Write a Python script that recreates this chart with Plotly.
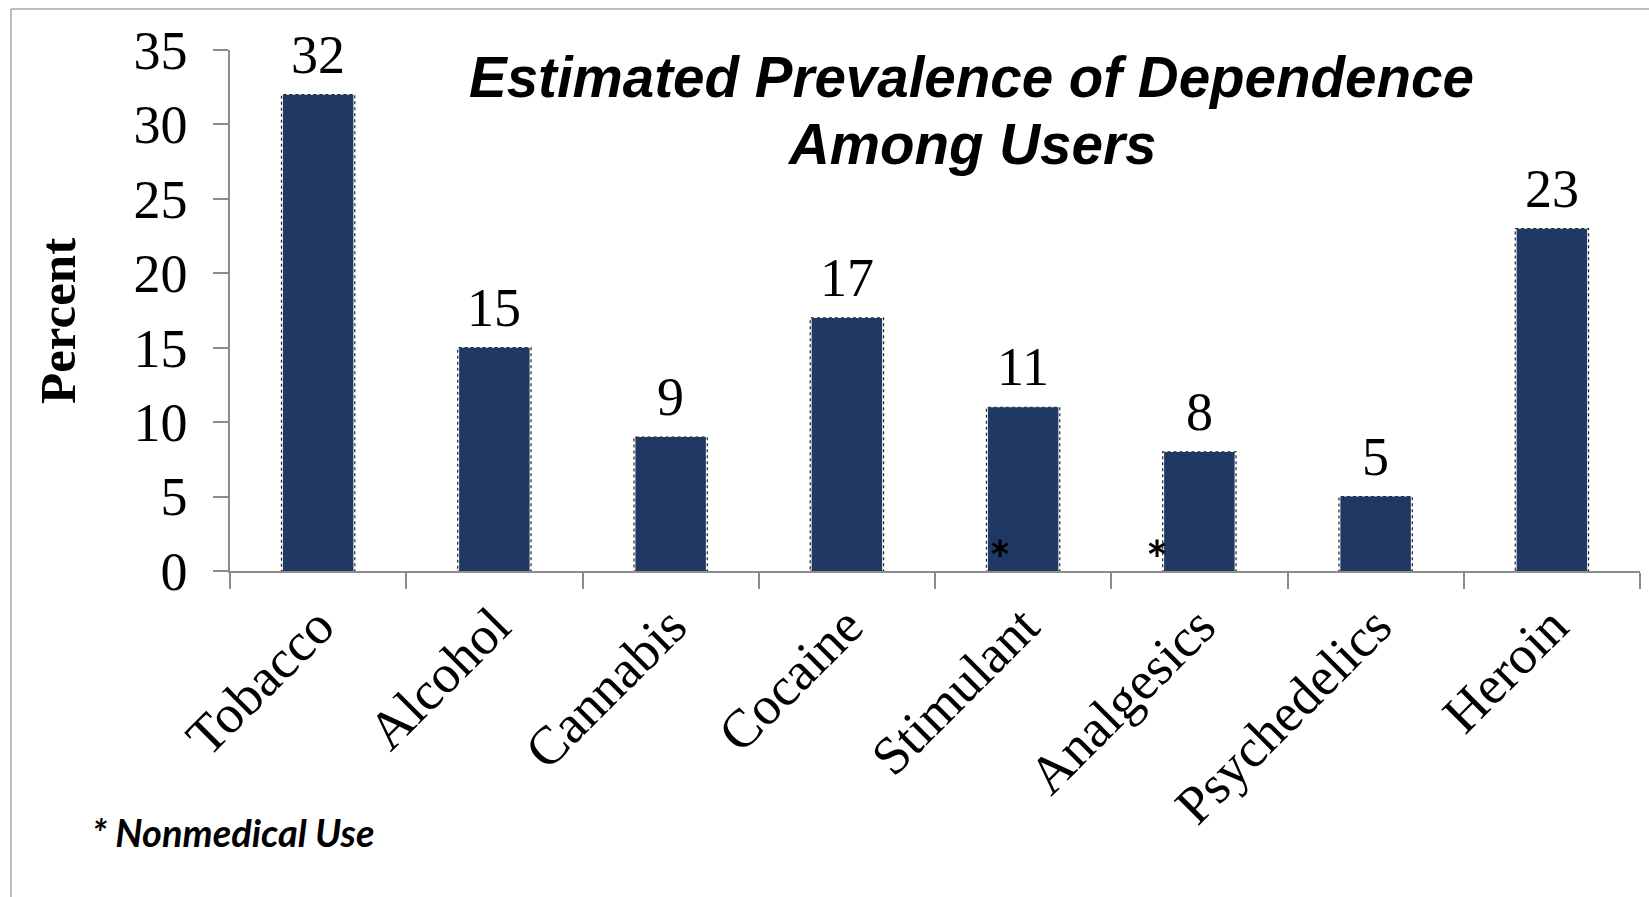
import plotly.graph_objects as go

# Estimated prevalence of dependence among users (percent)
categories = ["Tobacco", "Alcohol", "Cannabis", "Cocaine", "Stimulant",
              "Analgesics", "Psychedelics", "Heroin"]
percent = [32, 15, 9, 17, 11, 8, 5, 23]
nonmedical = ["Stimulant", "Analgesics"]

title_lines = ["Estimated Prevalence of Dependence", "Among Users"]
y_title = "Percent"
footnote = "* Nonmedical Use"
y_ticks = [0, 5, 10, 15, 20, 25, 30, 35]

BAR = "#203864"
AXIS = "#8c8c8c"
SERIF = "Liberation Serif, Times New Roman, serif"
SANS = "Liberation Sans, Arial, sans-serif"

W, H = 1649, 897
ML, MR, MT, MB = 230, 9, 50, 326

fig = go.Figure()
fig.add_trace(go.Bar(
    x=categories, y=percent, width=0.4,
    marker=dict(color=BAR, line=dict(width=0)),
    hoverinfo="x+y",
))

# value labels above each bar
for c, v in zip(categories, percent):
    fig.add_annotation(x=c, y=v, text=str(v), showarrow=False,
                       xref="x", yref="y", yanchor="bottom", yshift=8,
                       font=dict(family=SERIF, size=54, color="black"))

# dotted shadow outline around each bar
for i, v in enumerate(percent):
    fig.add_shape(type="rect", xref="x", yref="y",
                  x0=i - 0.208, x1=i + 0.208, y0=0, y1=v,
                  line=dict(color="#222222", width=1.2, dash="dot"),
                  layer="below")

# asterisks marking nonmedical use
shifts = {"Stimulant": -23, "Analgesics": -42}
for c in nonmedical:
    fig.add_annotation(x=c, y=1.6, text="<b>*</b>", showarrow=False,
                       xref="x", yref="y", xshift=shifts[c], yshift=-12,
                       yanchor="middle",
                       font=dict(family="Lato, sans-serif", size=52, color="black"))

plot_h = H - MT - MB
plot_w = W - ML - MR

def px_x(p):
    return (p - ML) / plot_w

def px_y(p):
    return (H - MB - p) / plot_h

# title, two centred lines
fig.add_annotation(x=px_x(971), y=px_y(77), xref="paper", yref="paper",
                   text="<b><i>%s</i></b>" % title_lines[0], showarrow=False,
                   xanchor="center", yanchor="middle",
                   font=dict(family=SANS, size=56.5, color="black"))
fig.add_annotation(x=px_x(971), y=px_y(145), xref="paper", yref="paper",
                   text="<b><i>%s</i></b>" % title_lines[1], showarrow=False,
                   xanchor="center", yanchor="middle",
                   font=dict(family=SANS, size=56.5, color="black"))

# vertical axis title
fig.add_annotation(x=px_x(58), y=px_y(321), xref="paper", yref="paper",
                   text="<b>%s</b>" % y_title, showarrow=False, textangle=-90,
                   xanchor="center", yanchor="middle",
                   font=dict(family=SERIF, size=51, color="black"))

# footnote
fig.add_annotation(x=px_x(90), y=px_y(832), xref="paper", yref="paper",
                   text="<b><i>%s</i></b>" % footnote, showarrow=False,
                   xanchor="left", yanchor="middle",
                   font=dict(family="Lato, sans-serif", size=38, color="black"))

# light frame along the left and top edges
fig.add_shape(type="line", xref="paper", yref="paper",
              x0=px_x(11), x1=px_x(11), y0=px_y(H + 5), y1=px_y(9),
              line=dict(color="#a6a6a6", width=1.5))
fig.add_shape(type="line", xref="paper", yref="paper",
              x0=px_x(11), x1=px_x(W + 5), y0=px_y(9), y1=px_y(9),
              line=dict(color="#a6a6a6", width=1.5))

fig.update_layout(
    width=W, height=H,
    margin=dict(l=ML, r=MR, t=MT, b=MB),
    paper_bgcolor="white", plot_bgcolor="white",
    showlegend=False,
    bargap=0.6,
)
fig.update_xaxes(
    type="category", range=[-0.5, len(categories) - 0.5],
    showline=True, linecolor=AXIS, linewidth=1.5,
    ticks="outside", tickson="boundaries", ticklen=16, tickcolor=AXIS, tickwidth=1.5,
    tickangle=-45, tickfont=dict(family=SERIF, size=54, color="black"),
    showgrid=False, zeroline=False,
)
fig.update_yaxes(
    range=[0, 35], tickvals=y_ticks,
    showline=True, linecolor=AXIS, linewidth=1.5,
    ticks="outside", ticklen=15, tickcolor=AXIS, tickwidth=1.5,
    tickfont=dict(family=SERIF, size=54, color="black"),
    ticklabelstandoff=15,
    showgrid=False, zeroline=False,
)

fig.write_html("out.html")
